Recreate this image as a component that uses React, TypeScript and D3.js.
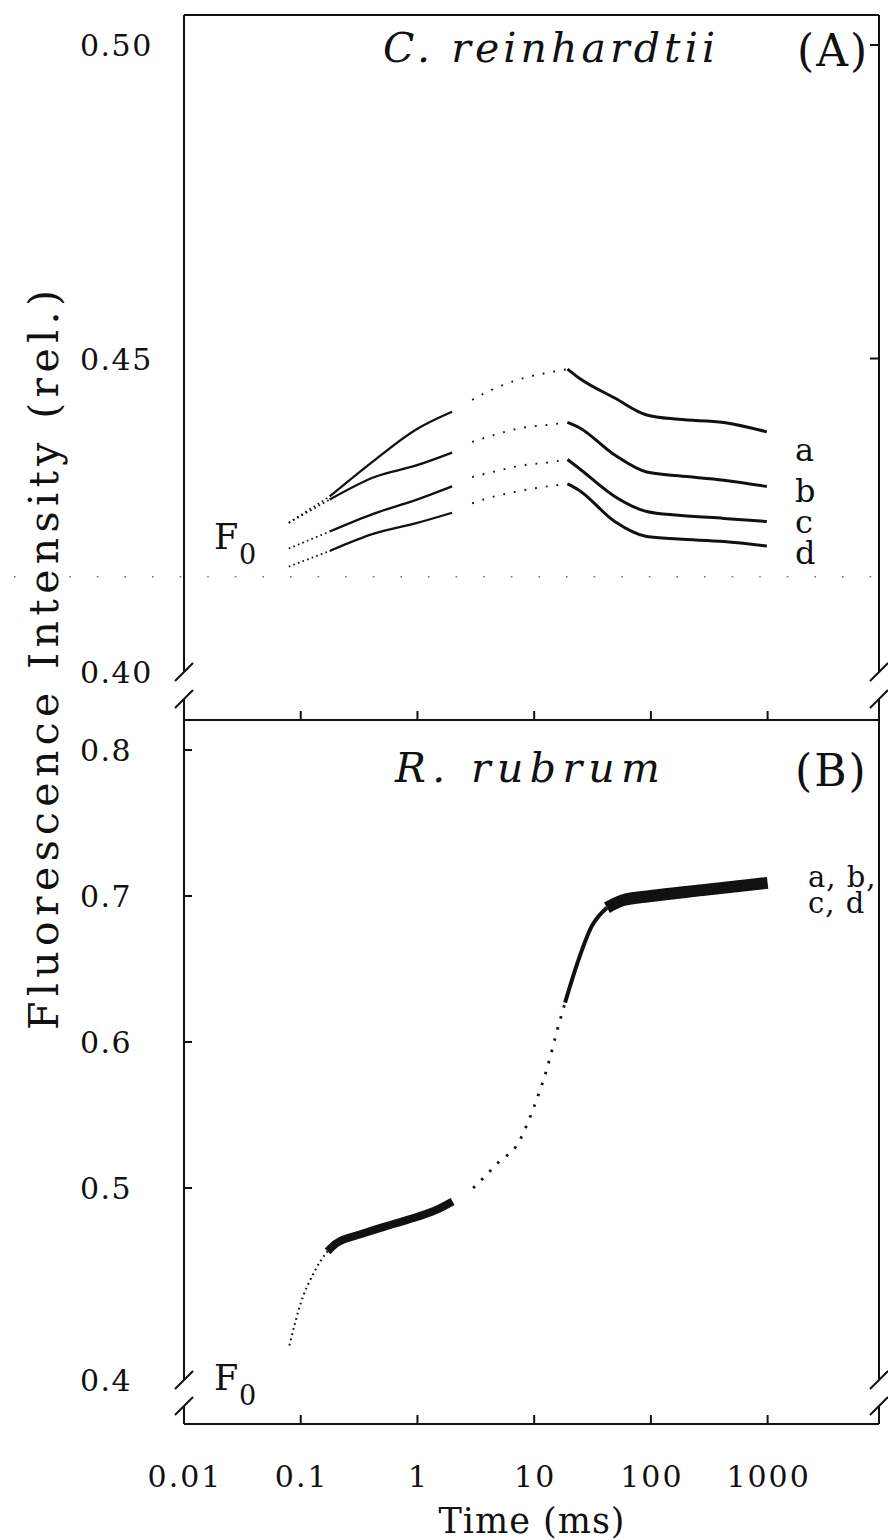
import React from 'react';
import * as d3 from 'd3';

// ---------- data ----------
const xTicks = [0.01, 0.1, 1, 10, 100, 1000];
const xTickLabels = ['0.01', '0.1', '1', '10', '100', '1000'];
const topYTicks = [0.45, 0.5];
const topYLabelValues = [0.4, 0.45, 0.5];
const topYTickLabels = ['0.40', '0.45', '0.50'];
const botYTicks = [0.5, 0.6, 0.7, 0.8];
const botYLabelValues = [0.4, 0.5, 0.6, 0.7, 0.8];
const botYTickLabels = ['0.4', '0.5', '0.6', '0.7', '0.8'];

// Panel A: C. reinhardtii, curves a–d (time in ms)
const topTimes = [0.079, 0.177, 0.43, 0.96, 1.98, 2.94, 4.0, 8.2, 12.9, 19.3, 24.2, 49, 92, 172, 421, 984];
const curveA = [0.4238, 0.428, 0.4338, 0.4386, 0.4415, 0.4434, 0.4447, 0.4469, 0.4477, 0.4483, 0.4469, 0.4437, 0.441, 0.4403, 0.4398, 0.4383];
const curveB = [0.4238, 0.4275, 0.4311, 0.4329, 0.435, 0.4367, 0.4375, 0.439, 0.4394, 0.4398, 0.439, 0.4346, 0.4319, 0.4313, 0.4306, 0.4296];
const curveC = [0.4197, 0.4224, 0.4253, 0.4274, 0.4296, 0.4311, 0.4317, 0.433, 0.4334, 0.4339, 0.4325, 0.428, 0.4256, 0.425, 0.4245, 0.424];
const curveD = [0.4168, 0.4193, 0.4221, 0.4237, 0.4254, 0.4269, 0.4277, 0.429, 0.4296, 0.43, 0.429, 0.424, 0.4216, 0.4212, 0.4208, 0.4201];
const topCurves = [curveA, curveB, curveC, curveD];
const topCurveNames = ['a', 'b', 'c', 'd'];
const topF0 = 0.4152;

// Panel B: R. rubrum, curves a–d superimposed
const botTimes = [0.08, 0.1, 0.13, 0.17, 0.2, 0.33, 0.6, 1.0, 1.5, 2.0, 3.0, 4.0, 5.0, 7.2, 10, 12.9, 15.5, 18.4, 23, 31, 42, 57, 100, 277, 1000];
const botValues = [0.418, 0.44, 0.456, 0.467, 0.471, 0.476, 0.481, 0.485, 0.489, 0.493, 0.5, 0.51, 0.518, 0.53, 0.556, 0.582, 0.606, 0.627, 0.652, 0.679, 0.692, 0.697, 0.7, 0.704, 0.709];

// ---------- layout ----------
const W = 888;
const H = 1540;
const L = 184;
const R = 879;
const TOP = 15;
const MID = 720;
const BOT = 1424;
const FONT = '"DejaVu Serif", "Liberation Serif", serif';

const x = d3.scaleLog().domain([0.01, 9000]).range([L, R]);
const yTop = d3.scaleLinear().domain([0.4, 0.5]).range([672, 45]);
// broken axis: 0.4 sits at the break below 0.5
const yBot = d3.scaleLinear().domain([0.4, 0.5, 0.8]).range([1380, 1188, 750]);

type P = [number, number];
function pick(times: number[], vals: number[], lo: number, hi: number): P[] {
  const out: P[] = [];
  times.forEach((t, i) => {
    if (t >= lo && t <= hi) out.push([t, vals[i]]);
  });
  return out;
}

function mkLine(y: (v: number) => number) {
  return d3
    .line<P>()
    .x((d) => x(d[0]))
    .y((d) => y(d[1]))
    .curve(d3.curveMonotoneX);
}

function breakMarks(cx: number, cy1: number, cy2: number) {
  return `M${cx - 9},${cy1 + 9}L${cx + 9},${cy1 - 9}M${cx - 9},${cy2 + 9}L${cx + 9},${cy2 - 9}`;
}

export default function App() {
  const lineTop = mkLine(yTop);
  const lineBot = mkLine(yBot);
  const decadeTicks = xTicks.slice(1);

  const brTop1 = yTop(0.4);
  const brTop2 = brTop1 + 27;
  const brBot1 = yBot(0.4);
  const brBot2 = brBot1 + 26;

  const frame = [
    // panel A
    `M${L},${TOP}H${R}`,
    `M${L},${TOP}V${brTop1}M${L},${brTop2}V${MID}`,
    `M${R},${TOP}V${brTop1}M${R},${brTop2}V${MID}`,
    breakMarks(L, brTop1, brTop2),
    breakMarks(R, brTop1, brTop2),
    `M${L},${MID}H${R}`,
    ...decadeTicks.map((t) => `M${x(t)},${MID}V${MID - 9}`),
    ...topYTicks.map((v) => `M${R},${yTop(v)}H${R - 9}`),
    // panel B
    `M${L},${MID}V${brBot1}M${L},${brBot2}V${BOT}`,
    `M${R},${MID}V${brBot1}M${R},${brBot2}V${BOT}`,
    breakMarks(L, brBot1, brBot2),
    breakMarks(R, brBot1, brBot2),
    `M${L},${BOT}H${R}`,
    ...decadeTicks.map((t) => `M${x(t)},${BOT}V${BOT - 9}`),
    ...botYTicks.map((v) => `M${L},${yBot(v)}H${L + 8}`),
  ].join('');

  const topLabelY = [461, 502, 533, 564];

  return (
    <svg
      width={W}
      height={H}
      viewBox={`0 0 ${W} ${H}`}
      style={{ position: 'absolute', left: 0, top: 0, background: '#fff' }}
    >
      <rect x={0} y={0} width={W} height={H} fill="#fff" />
      <path d={frame} fill="none" stroke="#111" strokeWidth={2} />

      {/* F0 dotted reference line in panel A */}
      <line
        x1={14}
        x2={W}
        y1={yTop(topF0)}
        y2={yTop(topF0)}
        stroke="#777"
        strokeWidth={1.6}
        strokeDasharray="1.6 26"
      />

      {/* Panel A curves */}
      {topCurves.map((vals, i) => (
        <g key={topCurveNames[i]} fill="none" stroke="#111">
          <path d={lineTop(pick(topTimes, vals, 0, 0.18)) || ''} strokeWidth={1.7} strokeDasharray="1.7 3.2" />
          <path d={lineTop(pick(topTimes, vals, 0.17, 2.0)) || ''} strokeWidth={2.3} />
          <path d={lineTop(pick(topTimes, vals, 2.5, 19.5)) || ''} strokeWidth={1.9} strokeDasharray="1.8 9" />
          <path d={lineTop(pick(topTimes, vals, 19, 1000)) || ''} strokeWidth={3} />
        </g>
      ))}

      {/* Panel B curve (a, b, c, d superimposed) */}
      <g fill="none" stroke="#111">
        <path d={lineBot(pick(botTimes, botValues, 0, 0.2)) || ''} strokeWidth={2} strokeDasharray="1.8 3.5" />
        <path d={lineBot(pick(botTimes, botValues, 0.17, 2.0)) || ''} strokeWidth={8} />
        <path d={lineBot(pick(botTimes, botValues, 2.5, 18.5)) || ''} strokeWidth={2.8} strokeDasharray="2.5 9" />
        <path d={lineBot(pick(botTimes, botValues, 18, 43)) || ''} strokeWidth={4} />
        <path d={lineBot(pick(botTimes, botValues, 42, 1000)) || ''} strokeWidth={12} />
      </g>

      <g fontFamily={FONT} fill="#111">
        {/* y tick labels */}
        {topYLabelValues.map((v, i) => (
          <text key={'ty' + i} x={80} y={yTop(v) + 11} fontSize={30} letterSpacing={1.5}>
            {topYTickLabels[i]}
          </text>
        ))}
        {botYLabelValues.map((v, i) => (
          <text key={'by' + i} x={80} y={yBot(v) + 11} fontSize={30} letterSpacing={1.5}>
            {botYTickLabels[i]}
          </text>
        ))}
        {/* x tick labels */}
        {xTicks.map((t, i) => (
          <text key={'xt' + i} x={x(t) + 1} y={1487} fontSize={30} letterSpacing={2} textAnchor="middle">
            {xTickLabels[i]}
          </text>
        ))}
        <text x={532} y={1533} fontSize={35} letterSpacing={1} textAnchor="middle">
          Time (ms)
        </text>
        <text
          transform={`translate(58,660) rotate(-90)`}
          fontSize={41}
          textAnchor="middle"
          textLength={740}
          lengthAdjust="spacing"
        >
          Fluorescence Intensity (rel.)
        </text>

        {/* panel titles */}
        <text x={383} y={62} fontSize={41} fontStyle="italic" textLength={332} lengthAdjust="spacing">
          C. reinhardtii
        </text>
        <text x={797} y={66} fontSize={44} letterSpacing={2}>
          (A)
        </text>
        <text x={395} y={782} fontSize={41} fontStyle="italic" textLength={265} lengthAdjust="spacing">
          R. rubrum
        </text>
        <text x={795} y={786} fontSize={44} letterSpacing={2}>
          (B)
        </text>

        {/* curve labels panel A */}
        {topCurveNames.map((n, i) => (
          <text key={'cl' + n} x={795} y={topLabelY[i]} fontSize={32}>
            {n}
          </text>
        ))}
        {/* F0 labels */}
        <text x={214} y={549} fontSize={35}>
          F
        </text>
        <text x={239} y={564} fontSize={27}>
          0
        </text>
        <text x={214} y={1390} fontSize={35}>
          F
        </text>
        <text x={239} y={1405} fontSize={27}>
          0
        </text>

        {/* curve labels panel B */}
        <text x={808} y={887} fontSize={29} letterSpacing={1}>
          a, b,
        </text>
        <text x={808} y={913} fontSize={29} letterSpacing={1}>
          c, d
        </text>
      </g>
    </svg>
  );
}
